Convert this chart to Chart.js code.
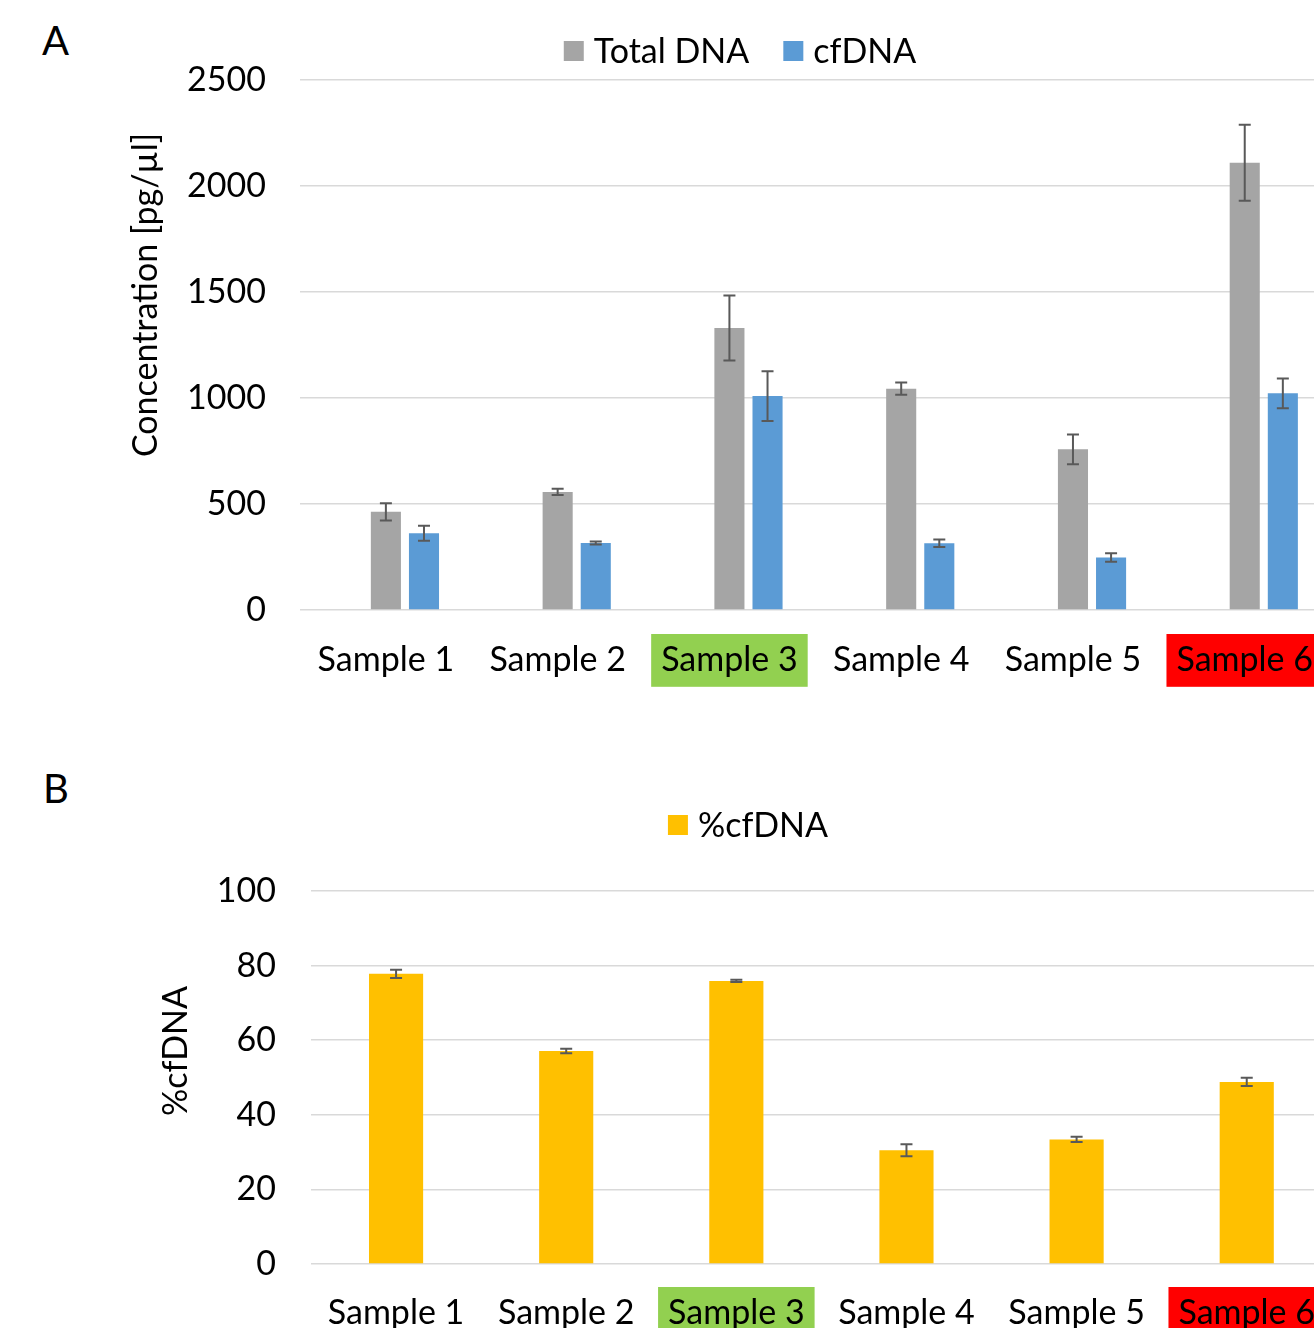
<!DOCTYPE html>
<html><head><meta charset="utf-8">
<script src="https://cdn.jsdelivr.net/npm/chart.js@4.4.0/dist/chart.umd.min.js"></script>
<style>
html,body{margin:0;padding:0;overflow:hidden;background:#fff;width:1314px;height:1328px;}
#wrap{position:relative;width:1314px;height:1328px;overflow:hidden;background:#fff;}
canvas{position:absolute;left:0;}
#cA{top:0;}
#cB{top:700px;}
.panel{position:absolute;font-family:Lato,sans-serif;font-size:40px;line-height:40px;color:#000;}
</style></head><body>
<div id="wrap">
<div class="panel" style="left:42px;top:20px">A</div>
<div class="panel" style="left:43px;top:768px">B</div>
<canvas id="cA" width="1343" height="700"></canvas>
<canvas id="cB" width="1344" height="628"></canvas>
</div>
<script>
// ---- data ----
const categories = ['Sample 1', 'Sample 2', 'Sample 3', 'Sample 4', 'Sample 5', 'Sample 6'];
const totalDNA    = [463, 557, 1330, 1044, 758, 2110];
const totalDNAErr = [41, 15, 153, 29, 70, 179];
const cfDNA       = [362, 316, 1009, 315, 248, 1022];
const cfDNAErr    = [35, 7, 117, 18, 20, 70];
const pctCfDNA    = [77.8, 57.1, 75.9, 30.5, 33.4, 48.8];
const pctCfDNAErr = [1.1, 0.6, 0.3, 1.6, 0.7, 1.1];
const concTicks = [0, 500, 1000, 1500, 2000, 2500];
const pctTicks  = [0, 20, 40, 60, 80, 100];

// ---- styling ----
const FONT = 'Lato';
const FS = 34;
const labelHighlight = {2: '#92D050', 5: '#FF0000'};

const errorBars = {
  id: 'errorBars',
  afterDatasetsDraw(chart) {
    const ctx = chart.ctx, y = chart.scales.y;
    chart.data.datasets.forEach((ds, di) => {
      if (!ds.errors) return;
      const meta = chart.getDatasetMeta(di);
      meta.data.forEach((bar, i) => {
        const v = ds.data[i], e = ds.errors[i];
        if (v == null || e == null) return;
        const x = bar.x, yt = y.getPixelForValue(v + e), yb = y.getPixelForValue(v - e);
        ctx.save();
        ctx.strokeStyle = '#595959'; ctx.lineWidth = 2;
        ctx.beginPath();
        ctx.moveTo(x, yt); ctx.lineTo(x, yb);
        ctx.moveTo(x - 6, yt); ctx.lineTo(x + 6, yt);
        ctx.moveTo(x - 6, yb); ctx.lineTo(x + 6, yb);
        ctx.stroke();
        ctx.restore();
      });
    });
  }
};

const customLegend = {
  id: 'customLegend',
  afterDraw(chart, args, o) {
    const ctx = chart.ctx;
    ctx.save();
    ctx.font = FS + 'px ' + FONT;
    const items = chart.data.datasets.filter(d => d.label);
    const widths = items.map(d => ctx.measureText(d.label).width);
    const total = widths.reduce((a, w) => a + o.box + o.gap + w, 0) + o.spacing * (items.length - 1);
    let x = o.cx - total / 2;
    ctx.textBaseline = 'middle'; ctx.textAlign = 'left';
    items.forEach((d, i) => {
      ctx.fillStyle = d.backgroundColor;
      ctx.fillRect(x, o.cy - o.box / 2, o.box, o.box);
      x += o.box + o.gap;
      ctx.fillStyle = '#000';
      ctx.fillText(d.label, x, o.cy + 1);
      x += widths[i] + o.spacing;
    });
    ctx.restore();
  }
};

const yTitle = {
  id: 'yTitle',
  afterDraw(chart, args, o) {
    const ctx = chart.ctx;
    ctx.save();
    ctx.translate(o.x, o.y);
    ctx.rotate(-Math.PI / 2);
    ctx.font = FS + 'px ' + FONT;
    ctx.fillStyle = '#000';
    ctx.textAlign = 'center'; ctx.textBaseline = 'middle';
    ctx.fillText(o.text, 0, 0);
    ctx.restore();
  }
};

function xScale(height, pad) {
  return {
    grid: {display: false, drawTicks: false},
    border: {display: false},
    ticks: {
      font: {family: FONT, size: FS}, color: '#000', padding: pad, autoSkip: false, maxRotation: 0,
      showLabelBackdrop: c => !!labelHighlight[c.index],
      backdropColor: c => labelHighlight[c.index] || 'rgba(0,0,0,0)',
      backdropPadding: {top: 6, bottom: 6, left: 10, right: 10}
    },
    afterFit: s => { s.height = height; }
  };
}
function yScale(tickVals, width, pad) {
  return {
    min: tickVals[0], max: tickVals[tickVals.length - 1],
    afterBuildTicks: s => { s.ticks = tickVals.map(v => ({value: v})); },
    ticks: {font: {family: FONT, size: FS}, color: '#000', padding: pad, callback: v => String(v)},
    grid: {color: '#d9d9d9', lineWidth: 1.5, drawTicks: false},
    border: {display: false},
    afterFit: s => { s.width = width; }
  };
}

new Chart(document.getElementById('cA'), {
  type: 'bar',
  data: {
    labels: categories,
    datasets: [
      {label: '', data: []},
      {label: 'Total DNA', data: totalDNA, errors: totalDNAErr, backgroundColor: '#A5A5A5'},
      {label: 'cfDNA', data: cfDNA, errors: cfDNAErr, backgroundColor: '#5B9BD5'}
    ]
  },
  options: {
    responsive: false, animation: false,
    layout: {padding: {top: 80, left: 0, right: 0, bottom: 0}},
    datasets: {bar: {categoryPercentage: 0.6655, barPercentage: 0.7895}},
    scales: {x: xScale(90, 30), y: yScale(concTicks, 300, 34)},
    plugins: {
      legend: {display: false}, tooltip: {enabled: false},
      customLegend: {cx: 740, cy: 51, box: 20, gap: 10, spacing: 34},
      yTitle: {text: 'Concentration [pg/µl]', x: 146, y: 295}
    }
  },
  plugins: [errorBars, customLegend, yTitle]
});

new Chart(document.getElementById('cB'), {
  type: 'bar',
  data: {
    labels: categories,
    datasets: [
      {label: '%cfDNA', data: pctCfDNA, errors: pctCfDNAErr, backgroundColor: '#FFC000'}
    ]
  },
  options: {
    responsive: false, animation: false,
    layout: {padding: {top: 191, left: 0, right: 0, bottom: 0}},
    datasets: {bar: {categoryPercentage: 0.3536, barPercentage: 0.9}},
    scales: {x: xScale(64, 29), y: yScale(pctTicks, 311, 35)},
    plugins: {
      legend: {display: false}, tooltip: {enabled: false},
      customLegend: {cx: 748, cy: 125, box: 20, gap: 10, spacing: 34},
      yTitle: {text: '%cfDNA', x: 176, y: 351}
    }
  },
  plugins: [errorBars, customLegend, yTitle]
});
</script>
</body></html>
